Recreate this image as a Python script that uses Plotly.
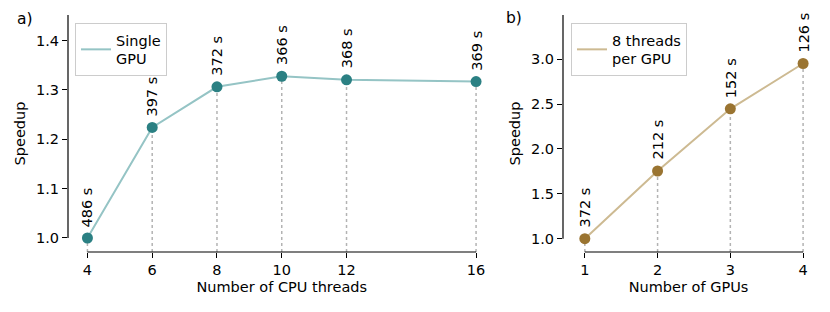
import plotly.graph_objects as go

# ---- data ----
cpu_threads = [4, 6, 8, 10, 12, 16]
cpu_times = [486, 397, 372, 366, 368, 369]
cpu_speedup = [cpu_times[0] / t for t in cpu_times]

n_gpus = [1, 2, 3, 4]
gpu_times = [372, 212, 152, 126]
gpu_speedup = [gpu_times[0] / t for t in gpu_times]

left_yticks = [1.0, 1.1, 1.2, 1.3, 1.4]
right_yticks = [1.0, 1.5, 2.0, 2.5, 3.0]

# ---- style ----
OFF = 8                     # page body margin of the browser
W, H = 830 - 2 * OFF, 312 - 2 * OFF
FONT = "DejaVu Sans"
FS = 14.5
teal_line, teal_mark = "#95c4c5", "#2b8083"
brown_line, brown_mark = "#cdba92", "#9a7431"
grid_dot = "#b3b3b3"


def fx(px):  # reference pixel x -> paper fraction
    return (px - OFF) / W


def fy(py):  # reference pixel y -> paper fraction
    return 1 - (py - OFF) / H


L_XR = [3.4, 16.6]
L_YR = [0.9716, 1.452]
R_XR = [0.70, 4.15]
R_YR = [0.852, 3.493]

y_dom = [fy(252), fy(15)]

fig = go.Figure()


def add_panel(xs, ys, times, xa, ya, line_c, mark_c, name, legend, ybot):
    # dotted drop lines
    for x, y in zip(xs, ys):
        fig.add_trace(go.Scatter(x=[x, x], y=[ybot, y], mode="lines",
                                 line=dict(color=grid_dot, width=1.5, dash="dot"),
                                 xaxis=xa, yaxis=ya, showlegend=False, hoverinfo="skip"))
    fig.add_trace(go.Scatter(x=xs, y=ys, mode="lines", name=name,
                             line=dict(color=line_c, width=2),
                             xaxis=xa, yaxis=ya, legend=legend))
    fig.add_trace(go.Scatter(x=xs, y=ys, mode="markers",
                             marker=dict(color=mark_c, size=11),
                             xaxis=xa, yaxis=ya, showlegend=False))
    for x, y, t in zip(xs, ys, times):
        fig.add_annotation(x=x, y=y, xref=xa, yref=ya, text=f"{t} s",
                           textangle=-90, showarrow=False, xanchor="center",
                           yanchor="bottom", yshift=9,
                           font=dict(family=FONT, size=FS, color="black"))


add_panel(cpu_threads, cpu_speedup, cpu_times, "x", "y", teal_line, teal_mark,
          "Single<br>GPU", "legend", L_YR[0])
add_panel(n_gpus, gpu_speedup, gpu_times, "x2", "y2", brown_line, brown_mark,
          "8 threads<br>per GPU", "legend2", R_YR[0])

axis_common = dict(showgrid=False, zeroline=False, showline=False, ticks="outside",
                   ticklen=5, tickwidth=1, tickcolor="black", automargin=False,
                   tickfont=dict(family=FONT, size=FS, color="black"))
tfont = dict(family=FONT, size=FS, color="black")

fig.update_layout(
    template="none",
    width=W, height=H, margin=dict(l=0, r=0, t=0, b=0, autoexpand=False),
    paper_bgcolor="white", plot_bgcolor="white",
    font=dict(family=FONT, size=FS, color="black"),
    xaxis=dict(domain=[fx(68), fx(495.5)], range=L_XR, tickvals=cpu_threads,
               title=dict(text="Number of CPU threads", standoff=4, font=tfont),
               anchor="y", **axis_common),
    yaxis=dict(domain=y_dom, range=L_YR, tickvals=left_yticks, tickformat=".1f",
               title=dict(text="Speedup", standoff=6, font=tfont), anchor="x", **axis_common),
    xaxis2=dict(domain=[fx(563), fx(814)], range=R_XR, tickvals=n_gpus,
                title=dict(text="Number of GPUs", standoff=4, font=tfont),
                anchor="y2", **axis_common),
    yaxis2=dict(domain=y_dom, range=R_YR, tickvals=right_yticks, tickformat=".1f",
                title=dict(text="Speedup", standoff=6, font=tfont), anchor="x2", **axis_common),
    legend=dict(x=fx(75), y=fy(23), xanchor="left", yanchor="top",
                bordercolor="#cccccc", borderwidth=1, bgcolor="white",
                font=dict(family=FONT, size=FS), itemwidth=30),
    legend2=dict(x=fx(571), y=fy(23), xanchor="left", yanchor="top",
                 bordercolor="#cccccc", borderwidth=1, bgcolor="white",
                 font=dict(family=FONT, size=FS), itemwidth=30),
    showlegend=True,
)

# trimmed spines
for xa, ya, xs, yr, yt in [("x", "y", cpu_threads, L_YR, left_yticks),
                           ("x2", "y2", n_gpus, R_YR, right_yticks)]:
    fig.add_shape(type="line", xref=f"{xa} domain", yref=ya, x0=0, x1=0,
                  y0=yt[0], y1=yr[1], line=dict(color="black", width=1.2))
    fig.add_shape(type="line", xref=xa, yref=f"{ya} domain", x0=xs[0], x1=xs[-1],
                  y0=0, y1=0, line=dict(color="black", width=1.2))

# panel labels
fig.add_annotation(x=fx(25), y=fy(19), xref="paper", yref="paper", text="a)",
                   xanchor="center", yanchor="middle",
                   showarrow=False, font=dict(family=FONT, size=FS + 1))
fig.add_annotation(x=fx(514), y=fy(18), xref="paper", yref="paper", text="b)",
                   xanchor="center", yanchor="middle",
                   showarrow=False, font=dict(family=FONT, size=FS + 1))

fig.write_html("out.html")
